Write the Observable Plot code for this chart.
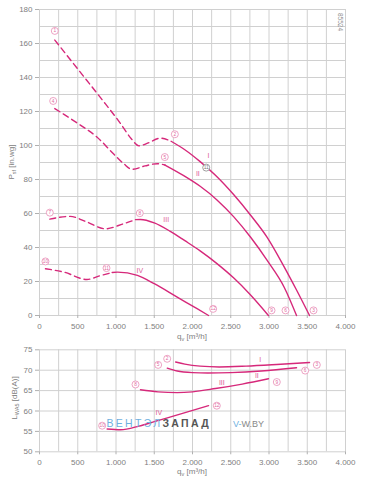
<!DOCTYPE html>
<html><head><meta charset="utf-8">
<script src="https://cdn.jsdelivr.net/npm/d3@7"></script>
<script src="https://cdn.jsdelivr.net/npm/@observablehq/plot@0.6"></script>
<style>
html,body{margin:0;padding:0;background:#fff;}
#chart svg{display:block;}
</style>
</head><body><div id="chart"></div>
<script>
// ---------- data ----------
const qTicks = [0, 500, 1000, 1500, 2000, 2500, 3000, 3500, 4000];
const pTicks = [0, 20, 40, 60, 80, 100, 120, 140, 160, 180];
const lTicks = [50, 55, 60, 65, 70, 75];

// static pressure curves [q m3/h, P]
const psI_dash  = [[200,162],[500,145],[800,128],[1050,113.5],[1200,104],[1300,99.8],[1420,101.5],[1580,104.3],[1720,102.5]];
const psI_solid = [[1720,102.5],[1900,97.5],[2100,90.5],[2300,82.5],[2540,71],[2760,59],[2976,46],[3200,28.5],[3360,15],[3530,0]];
const psII_dash  = [[200,121.7],[500,113],[750,105],[970,95],[1100,89.3],[1210,86],[1380,88],[1540,89.3],[1640,88.5]];
const psII_solid = [[1640,88.5],[1880,82.4],[2100,76],[2320,68],[2540,58],[2760,46],[2976,32.4],[3200,16.5],[3360,0]];
const psIII_dash  = [[135,56.7],[400,58.3],[620,55],[860,51],[1100,54],[1255,56.4]];
const psIII_solid = [[1255,56.4],[1320,56.5],[1500,54.5],[1710,49.5],[1900,44],[2100,38],[2320,30.5],[2540,22],[2750,12.5],[2993,0]];
const psIV_dash  = [[78,27.5],[320,25.5],[620,21.2],[800,23.5],[950,25.3]];
const psIV_solid = [[950,25.3],[1020,25.5],[1280,23.6],[1500,18.7],[1800,10.8],[2060,4],[2210,0]];

// sound power curves [q m3/h, LwA]
const lwI   = [[1780,72.0],[1900,71.5],[2100,71.0],[2350,70.8],[2700,71.0],[3100,71.4],[3530,71.9]];
const lwII  = [[1670,70.5],[1800,69.8],[2000,69.4],[2200,69.3],[2500,69.4],[2900,69.8],[3360,70.6]];
const lwIII = [[1320,65.2],[1550,64.7],[1800,64.5],[2000,64.7],[2300,65.5],[2650,66.6],[2993,67.9]];
const lwIV  = [[884,55.6],[1060,55.4],[1300,56.3],[1500,57.4],[1870,59.4],[2210,61.3]];

// point markers
const topMarkers = [
  {n:"1",q:200,v:167.4},{n:"2",q:1769,v:106.6},{n:"3",q:3582,v:3},
  {n:"4",q:179,v:126.2},{n:"5",q:1638,v:93.2},{n:"6",q:3216,v:3},
  {n:"7",q:135,v:60.5},{n:"8",q:1311,v:60.2},{n:"9",q:3033,v:3},
  {n:"10",q:78,v:31.8},{n:"11",q:876,v:27.9},{n:"12",q:2270,v:3.9}
];
const topGrayMarker = [{n:"11",q:2179,v:87}];
const botMarkers = [
  {n:"2",q:1669,v:72.8},{n:"3",q:3625,v:71.3},{n:"5",q:1551,v:71.3},{n:"6",q:3473,v:69.9},
  {n:"8",q:1255,v:66.5},{n:"9",q:3102,v:67.1},{n:"10",q:819,v:56.4},{n:"12",q:2318,v:61.3}
];
const topRoman = [{t:"I",q:2209,v:94.2},{t:"II",q:2070,v:83.4},{t:"III",q:1656,v:56.5},{t:"IV",q:1312,v:26.5}];
const botRoman = [{t:"I",q:2885,v:72.5},{t:"II",q:2841,v:68.7},{t:"III",q:2383,v:66.9},{t:"IV",q:1560,v:59.6}];

// ---------- styling ----------
const PINK = "#d6287a";
const MARK = "#e88cb5";
const GRID = "#d0d0d0";
const FONT = "'Liberation Sans', Arial, sans-serif";
const fmt = d3.formatLocale({decimal:",", thousands:".", grouping:[3], currency:["",""]}).format(",");

const X = d => d[0], Y = d => d[1];
function curveMarks(arr, dashed) {
  return Plot.line(arr, {x:X, y:Y, curve:"monotone-x", stroke:PINK, strokeWidth:1.4,
    strokeDasharray: dashed ? "6,4" : null});
}
function markerMarks(arr, color, tcolor) {
  return [
    Plot.dot(arr, {x:"q", y:"v", r:3.5, fill:"white", stroke:color, strokeWidth:0.8}),
    Plot.text(arr, {x:"q", y:"v", text:"n", fontSize:4.8, fill:tcolor})
  ];
}
const styleObj = {fontFamily: FONT, fontSize:"8px", color:"#808080", background:"white", overflow:"visible"};

const topChart = Plot.plot({
  width:366, height:340,
  marginLeft:39, marginRight:21, marginTop:9, marginBottom:25,
  style: styleObj,
  x:{domain:[0,4000]},
  y:{domain:[0,180]},
  marks:[
    Plot.gridX(d3.range(0,4001,250), {stroke:GRID, strokeOpacity:1}),
    Plot.gridY(d3.range(0,181,10), {stroke:GRID, strokeOpacity:1}),
    Plot.axisX(qTicks, {tickFormat:fmt, tickSize:3, tickPadding:5, label:null, stroke:"#b0b0b0"}),
    Plot.axisY(pTicks, {tickSize:4, tickPadding:3, label:null, stroke:"#b0b0b0"}),
    curveMarks(psI_dash,true), curveMarks(psI_solid,false),
    curveMarks(psII_dash,true), curveMarks(psII_solid,false),
    curveMarks(psIII_dash,true), curveMarks(psIII_solid,false),
    curveMarks(psIV_dash,true), curveMarks(psIV_solid,false),
    ...markerMarks(topMarkers, MARK, "#e06aa0"),
    ...markerMarks(topGrayMarker, "#888", "#777"),
    Plot.text(topRoman, {x:"q", y:"v", text:"t", fontSize:7, fill:"#dc5a96"})
  ]
});

const botChart = Plot.plot({
  width:366, height:146,
  marginLeft:39, marginRight:21, marginTop:9.3, marginBottom:34.7,
  style: styleObj,
  x:{domain:[0,4000]},
  y:{domain:[50,75]},
  marks:[
    Plot.gridX(d3.range(0,4001,250), {stroke:GRID, strokeOpacity:1}),
    Plot.gridY(lTicks, {stroke:GRID, strokeOpacity:1}),
    Plot.axisX(qTicks, {tickFormat:fmt, tickSize:3, tickPadding:5, label:null, stroke:"#b0b0b0"}),
    Plot.axisY(lTicks, {tickSize:4, tickPadding:3, label:null, stroke:"#b0b0b0"}),
    curveMarks(lwI,false), curveMarks(lwII,false), curveMarks(lwIII,false), curveMarks(lwIV,false),
    ...markerMarks(botMarkers, MARK, "#e06aa0"),
    Plot.text(botRoman, {x:"q", y:"v", text:"t", fontSize:7, fill:"#dc5a96"})
  ]
});

// ---------- labels with subscripts ----------
function subLabel(svg, x, y, rot, main, sub, rest) {
  const t = d3.select(svg).append("text")
    .attr("transform", `translate(${x},${y}) rotate(${rot})`)
    .attr("text-anchor","middle").attr("fill","#808080")
    .style("font-family", FONT).style("font-size","8px");
  t.append("tspan").text(main);
  t.append("tspan").attr("dy","2").style("font-size","5.5px").text(sub);
  t.append("tspan").attr("dy","-2").text(rest);
}
subLabel(topChart, 14, 162, -90, "P", "sf", " [in.wg]");
subLabel(topChart, 192, 339, 0, "q", "v", " [m³/h]");
subLabel(botChart, 17, 58, -90, "L", "WA5", " [dB(A)]");
subLabel(botChart, 192, 134, 0, "q", "v", " [m³/h]");

d3.select(topChart).append("text")
  .attr("transform","translate(338,22) rotate(90)")
  .attr("text-anchor","middle").attr("fill","#909090")
  .style("font-family",FONT).style("font-size","6.5px").text("85524");

// watermark
const wm = d3.select(botChart).append("text")
  .attr("x",106.5).attr("y",87.2).attr("text-anchor","start")
  .style("font-family",FONT).style("font-size","10.5px").style("letter-spacing","2.3px");
wm.append("tspan").attr("fill","#6fb0e0").text("ВЕНТЭЛ");
wm.append("tspan").attr("fill","#555").style("font-weight","bold").text("ЗАПАД");
const wm2 = d3.select(botChart).append("text")
  .attr("x",233).attr("y",87.2).attr("text-anchor","start")
  .style("font-family",FONT).style("font-size","9px");
wm2.append("tspan").attr("fill","#6fb0e0").text("V-");
wm2.append("tspan").attr("fill","#888").text("W.BY");

document.getElementById("chart").append(topChart, botChart);
</script>
</body></html>
